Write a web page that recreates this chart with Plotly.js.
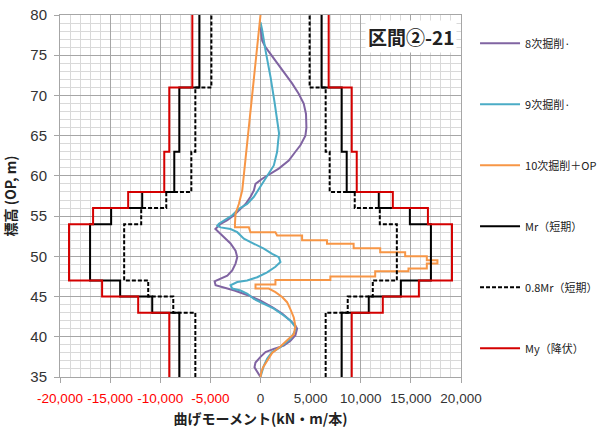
<!DOCTYPE html>
<html>
<head>
<meta charset="utf-8">
<script src="https://cdn.plot.ly/plotly-3.0.1.min.js"></script>
<style>
  html, body { margin: 0; padding: 0; background: #ffffff; }
  #chart { width: 599px; height: 430px; }
</style>
</head>
<body>
<div id="chart"></div>
<script>
// Elevation boundaries (OP, m) of the capacity steps
const stepLevels = [35, 43, 45, 47, 54, 56, 58, 63, 71, 80];

// Capacities per step (kN·m/本), bottom to top
const myYield   = [9100, 12200, 15800, 19100, 16700, 13200, 9600, 9100, 6800];
const mrShort   = [8100, 10800, 14000, 17000, 14900, 11800, 8600, 8100, 6100];
const mr08Short = [6500, 8700, 11200, 13600, 11900, 9400, 6900, 6500, 4900];

// 8次掘削 bending moment profile
const cut8Moment = [0, 170, 500, 1330, 2320, 3150, 3810, 4310, 4540, 4600, 4580, 4480, 3980, 3480, 2820, 1820, 1000, 170, -500, -660, -995, -1490, -1990, -2650, -3310, -3980, -4500, -3980, -3480, -2990, -2490, -2320, -2490, -2820, -3310, -3980, -4580, -4480, -3600, -2600, -1330, 0, 1160, 2160, 2990, 3480, 3650, 3480, 2990, 2320, 1330, 500, 0, -500, -600, -330, -70, 0];
const cut8Elev   = [78.5, 76.8, 76.0, 74.6, 72.9, 71.5, 70.2, 69.0, 67.7, 66.5, 66.0, 65.0, 63.8, 63.0, 61.9, 60.9, 60.3, 59.65, 59.0, 58.2, 57.4, 56.5, 55.9, 55.1, 54.5, 54.05, 53.4, 52.8, 52.2, 51.6, 50.7, 49.9, 49.1, 48.25, 47.6, 47.2, 46.9, 46.4, 46.1, 45.75, 45.2, 44.5, 43.7, 42.9, 42.0, 41.4, 41.0, 40.2, 39.5, 38.9, 38.5, 38.1, 37.5, 36.8, 36.2, 35.6, 35.2, 35.0];

// 9次掘削 bending moment profile
const cut9Moment = [0, 170, 500, 1000, 1420, 1660, 1850, 1760, 1660, 1330, 500, -165, -660, -1330, -2160, -2820, -3650, -4150, -4310, -3980, -2990, -2320, -1660, -660, 330, 1160, 1820, 1990, 1490, 660, -330, -1330, -2320, -2990, -2820, -1990, -1300, -660, 330, 1330, 2320, 2990, 3480, 3480, 2990, 1990, 1160, 670, 330, 100, 0];
const cut9Elev   = [79.1, 78.1, 75.6, 72.3, 69.0, 66.8, 65.3, 64.3, 63.0, 61.3, 59.65, 58.3, 57.4, 56.5, 55.9, 55.1, 54.5, 54.05, 53.8, 53.6, 53.4, 53.0, 52.2, 51.6, 50.95, 50.3, 49.9, 49.3, 48.7, 48.0, 47.4, 47.0, 46.8, 46.4, 46.0, 45.75, 45.35, 44.7, 44.1, 43.5, 42.65, 42.0, 41.2, 40.8, 39.75, 38.7, 38.1, 37.3, 36.4, 35.6, 35.0];

// 10次掘削＋OP bending moment profile
const cut10Moment = [0, -1160, -1820, -2160, -2490, -2550, -2550, -1160, -1000, 1490, 1660, 4150, 4150, 6630, 6630, 9290, 9290, 11940, 11940, 14430, 14430, 16590, 16590, 17650, 17650, 16590, 16590, 14760, 14760, 11440, 11440, 6970, 6970, 1490, 1490, -500, -500, 830, 1490, 2160, 2650, 2990, 3320, 3480, 3320, 2820, 1990, 1160, 670, 250, 80, 0];
const cut10Elev   = [80.0, 66.2, 58.2, 56.5, 55.3, 54.0, 53.6, 53.6, 53.0, 53.0, 52.6, 52.6, 52.0, 52.0, 51.55, 51.55, 51.0, 51.0, 50.5, 50.5, 50.0, 50.0, 49.5, 49.5, 49.1, 49.1, 48.5, 48.5, 48.15, 48.15, 47.5, 47.5, 47.05, 47.05, 46.5, 46.5, 46.0, 46.0, 45.55, 44.95, 44.3, 43.4, 42.4, 41.3, 40.3, 39.75, 38.8, 38.0, 37.0, 36.2, 35.6, 35.0];

// Axis ticks
const xTickVals = [-20000, -15000, -10000, -5000, 0, 5000, 10000, 15000, 20000];
const xTickText = ['-20,000', '-15,000', '-10,000', '-5,000', '0', '5,000', '10,000', '15,000', '20,000'];
const yTickVals = [35, 40, 45, 50, 55, 60, 65, 70, 75, 80];

// Series names
const seriesNames = ['8次掘削·', '9次掘削·', '10次掘削＋OP', 'Mr（短期）', '0.8Mr（短期）', 'My（降伏）'];

// Closed staircase outline on both sides of the pile axis
function stepOutline(values) {
  const xs = [], ys = [];
  [1, -1].forEach(side => {
    for (let i = 0; i < values.length; i++) {
      xs.push(side * values[i], side * values[i]);
      ys.push(stepLevels[i], stepLevels[i + 1]);
    }
    xs.push(null); ys.push(null);
  });
  return { x: xs, y: ys };
}

const jp = '"Noto Sans CJK JP", "Noto Sans", sans-serif';
const num = '"Liberation Sans", Arial, sans-serif';

function curve(name, x, y, color, dash, group) {
  return {
    type: 'scatter', mode: 'lines', name: name, x: x, y: y,
    legendgroup: group, connectgaps: false,
    line: { color: color, width: 2, dash: dash || 'solid' },
    hoverinfo: 'skip'
  };
}

const myPath = stepOutline(myYield);
const mrPath = stepOutline(mrShort);
const mr08Path = stepOutline(mr08Short);

const traces = [
  curve(seriesNames[0], cut8Moment, cut8Elev, '#8064a2', null, 'g1'),
  curve(seriesNames[1], cut9Moment, cut9Elev, '#4bacc6', null, 'g2'),
  curve(seriesNames[2], cut10Moment, cut10Elev, '#f79646', null, 'g3'),
  curve(seriesNames[3], mrPath.x, mrPath.y, '#000000', null, 'g4'),
  curve(seriesNames[4], mr08Path.x, mr08Path.y, '#000000', '4px,2px', 'g5'),
  curve(seriesNames[5], myPath.x, myPath.y, '#d40000', null, 'g6')
];

const xLabels = xTickText.map((t, i) =>
  xTickVals[i] < 0 ? '<span style="color:#ff0000">' + t + '</span>' : t);

const layout = {
  width: 599, height: 430,
  margin: { l: 60, r: 138, t: 15, b: 53, pad: 0, autoexpand: false },
  paper_bgcolor: '#ffffff', plot_bgcolor: '#ffffff',
  showlegend: true,
  legend: {
    x: 1.035, xanchor: 'left', y: 0.962, yanchor: 'top',
    font: { family: jp, size: 11, color: '#222222' },
    tracegroupgap: 42, itemwidth: 40, traceorder: 'grouped',
    bgcolor: 'rgba(0,0,0,0)'
  },
  xaxis: {
    range: [-20000, 20000], tickvals: xTickVals, ticktext: xLabels,
    showgrid: true, gridcolor: '#a6a6a6', gridwidth: 1,
    minor: { dtick: 1000, showgrid: true, gridcolor: '#d9d9d9', gridwidth: 1 },
    zeroline: false, showline: true, linecolor: '#a6a6a6', linewidth: 1, mirror: true,
    ticks: 'outside', ticklen: 5, tickcolor: '#a6a6a6',
    ticklabelstandoff: 4,
    tickfont: { family: num, size: 13.5, color: '#333333' },
    title: { text: '<b>曲げモーメント(kN・m/本)</b>', font: { family: jp, size: 14, color: '#222222' }, standoff: 8 },
    automargin: false, fixedrange: true
  },
  yaxis: {
    range: [35, 80], tickvals: yTickVals,
    showgrid: true, gridcolor: '#a6a6a6', gridwidth: 1,
    minor: { dtick: 1, showgrid: true, gridcolor: '#d9d9d9', gridwidth: 1 },
    zeroline: false, showline: true, linecolor: '#a6a6a6', linewidth: 1, mirror: true,
    ticks: 'outside', ticklen: 5, tickcolor: '#a6a6a6',
    ticklabelstandoff: 4,
    tickfont: { family: num, size: 15, color: '#333333' },
    title: { text: '<b>標高 (OP, m)</b>', font: { family: jp, size: 14, color: '#222222' }, standoff: 10 },
    automargin: false, fixedrange: true
  },
  annotations: [{
    text: '<b>区間②-21</b>', xref: 'paper', yref: 'paper',
    x: 0.99, y: 0.94, xanchor: 'right', yanchor: 'middle',
    showarrow: false, bgcolor: '#ffffff', borderpad: 2,
    font: { family: jp, size: 19, color: '#222222' }
  }]
};

Plotly.newPlot('chart', traces, layout, { displayModeBar: false, staticPlot: true });
</script>
</body>
</html>
